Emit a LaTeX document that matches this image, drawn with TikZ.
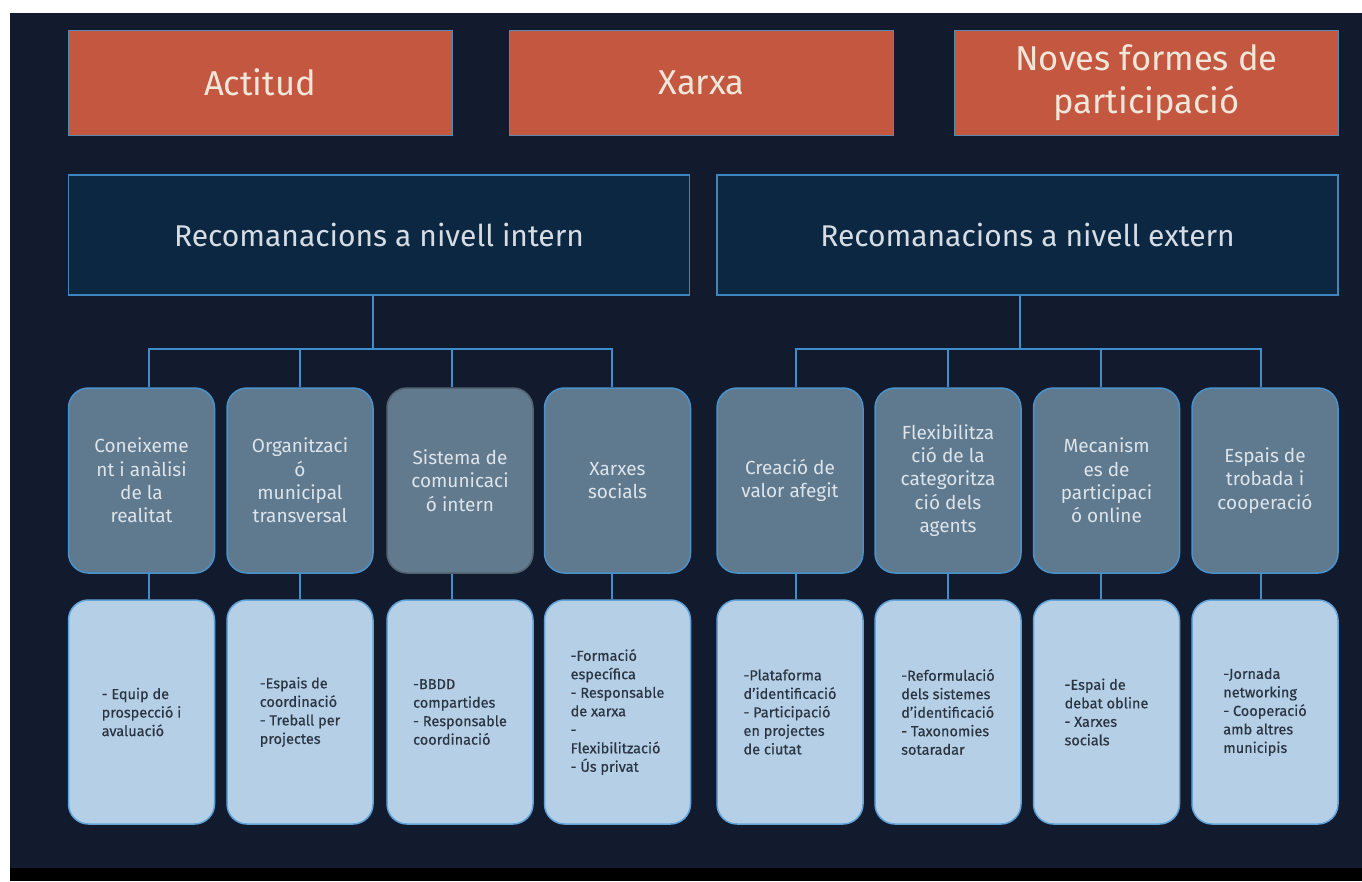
\documentclass[tikz,border=0pt]{standalone}
\usepackage{fontspec}
\setmainfont{Fira Sans}
\newfontfamily\detfont[FakeBold=0.5]{Fira Sans}
\definecolor{bgdark}{HTML}{121B2D}
\definecolor{orbox}{HTML}{C4573F}
\definecolor{obord}{HTML}{5A88B0}
\definecolor{cream}{HTML}{F1E6DA}
\definecolor{hdrfill}{HTML}{0B2741}
\definecolor{hdrline}{HTML}{3C86C2}
\definecolor{hdrtext}{HTML}{D5DCE4}
\definecolor{catfill}{HTML}{5F7A8F}
\definecolor{catline}{HTML}{4A92CC}
\definecolor{cat3line}{HTML}{52626F}
\definecolor{cattext}{HTML}{DDE4EA}
\definecolor{detfill}{HTML}{B4CFE6}
\definecolor{detline}{HTML}{62A4DA}
\definecolor{dettext}{HTML}{2B3542}
\definecolor{linkc}{HTML}{3F8ECC}
\begin{document}
\begin{tikzpicture}[x=1pt,y=-1pt,
  topbox/.style={fill=orbox, draw=obord, line width=1pt, minimum width=384pt, minimum height=105pt, text=cream, font=\fontsize{34.5}{43}\selectfont, align=center, inner sep=0pt},
  hdrbox/.style={fill=hdrfill, draw=hdrline, line width=1.5pt, minimum width=621pt, minimum height=120pt, text=hdrtext, font=\fontsize{30}{34}\selectfont, inner sep=0pt},
  catbox/.style={rounded corners=20pt, fill=catfill, draw=catline, line width=1.5pt, minimum width=146pt, minimum height=185pt, text=cattext, font=\fontsize{19}{23.3}\selectfont, align=center, inner sep=0pt},
  detbox/.style={rounded corners=20pt, fill=detfill, draw=detline, line width=1.5pt, minimum width=146pt, minimum height=224pt, text=dettext, font=\detfont\fontsize{14.5}{18.5}\selectfont, align=left, inner sep=0pt},
  link/.style={draw=linkc, line width=2pt}]
\useasboundingbox (0,0) rectangle (1362,881);
\fill[white] (0,0) rectangle (1362,881);
\fill[bgdark] (10,13) rectangle (1362,868);
\fill[black] (10,868) rectangle (1362,881);

% top row
\node[topbox] (t1) at (260,82.5) {Actitud};
\node[topbox] (t2) at (701.5,82.5) {Xarxa};
\node[topbox] (t3) at (1146.5,82.5) {Noves formes de\\participació};

% headers
\node[hdrbox] (hL) at (379,235) {Recomanacions a nivell intern};
\node[hdrbox] (hR) at (1027.5,235) {Recomanacions a nivell extern};

% category boxes
\node[catbox] (g1) at (141.5,480.5) {Coneixeme\\nt i anàlisi\\de la\\realitat};
\node[catbox] (g2) at (300,480.5) {Organitzaci\\ó\\municipal\\transversal};
\node[catbox, draw=cat3line, fill=catfill!92!gray] (g3) at (460,480.5) {Sistema de\\comunicaci\\ó intern};
\node[catbox] (g4) at (617.5,480.5) {Xarxes\\socials};
\node[catbox] (g5) at (790,480.5) {Creació de\\valor afegit};
\node[catbox] (g6) at (948,480.5) {Flexibilitza\\ció de la\\categoritza\\ció dels\\agents};
\node[catbox] (g7) at (1106.5,480.5) {Mecanism\\es de\\participaci\\ó online};
\node[catbox] (g8) at (1265,480.5) {Espais de\\trobada i\\cooperació};

% detail boxes
\node[detbox] (d1) at (141.5,712) {- Equip de\\prospecció i\\avaluació};
\node[detbox] (d2) at (300,712) {-Espais de\\coordinació\\- Treball per\\projectes};
\node[detbox] (d3) at (460,712) {-BBDD\\compartides\\- Responsable\\coordinació};
\node[detbox] (d4) at (617.5,712) {-Formació\\específica\\- Responsable\\de xarxa\\-\\Flexibilització\\- Ús privat};
\node[detbox] (d5) at (790,712) {-Plataforma\\d’identificació\\- Participació\\en projectes\\de ciutat};
\node[detbox] (d6) at (948,712) {-Reformulació\\dels sistemes\\d’identificació\\- Taxonomies\\sotaradar};
\node[detbox] (d7) at (1106.5,712) {-Espai de\\debat obline\\- Xarxes\\socials};
\node[detbox] (d8) at (1265,712) {-Jornada\\networking\\- Cooperació\\amb altres\\municipis};

% connectors
\draw[link] ([xshift=-6pt]hL.south) -- ++(0,53) coordinate (bL);
\draw[link] ([xshift=-7.5pt]hR.south) -- ++(0,53) coordinate (bR);
\foreach \n/\s in {1/7, 2/0, 3/-8, 4/-6} {
  \draw[link] (bL) -| ([xshift=\s pt]g\n.north);
  \draw[link] ([xshift=\s pt]g\n.south) -- ([xshift=\s pt]d\n.north);
}
\foreach \n/\s in {5/6, 6/0, 7/-5.5, 8/-4.5} {
  \draw[link] (bR) -| ([xshift=\s pt]g\n.north);
  \draw[link] ([xshift=\s pt]g\n.south) -- ([xshift=\s pt]d\n.north);
}
\end{tikzpicture}
\end{document}
